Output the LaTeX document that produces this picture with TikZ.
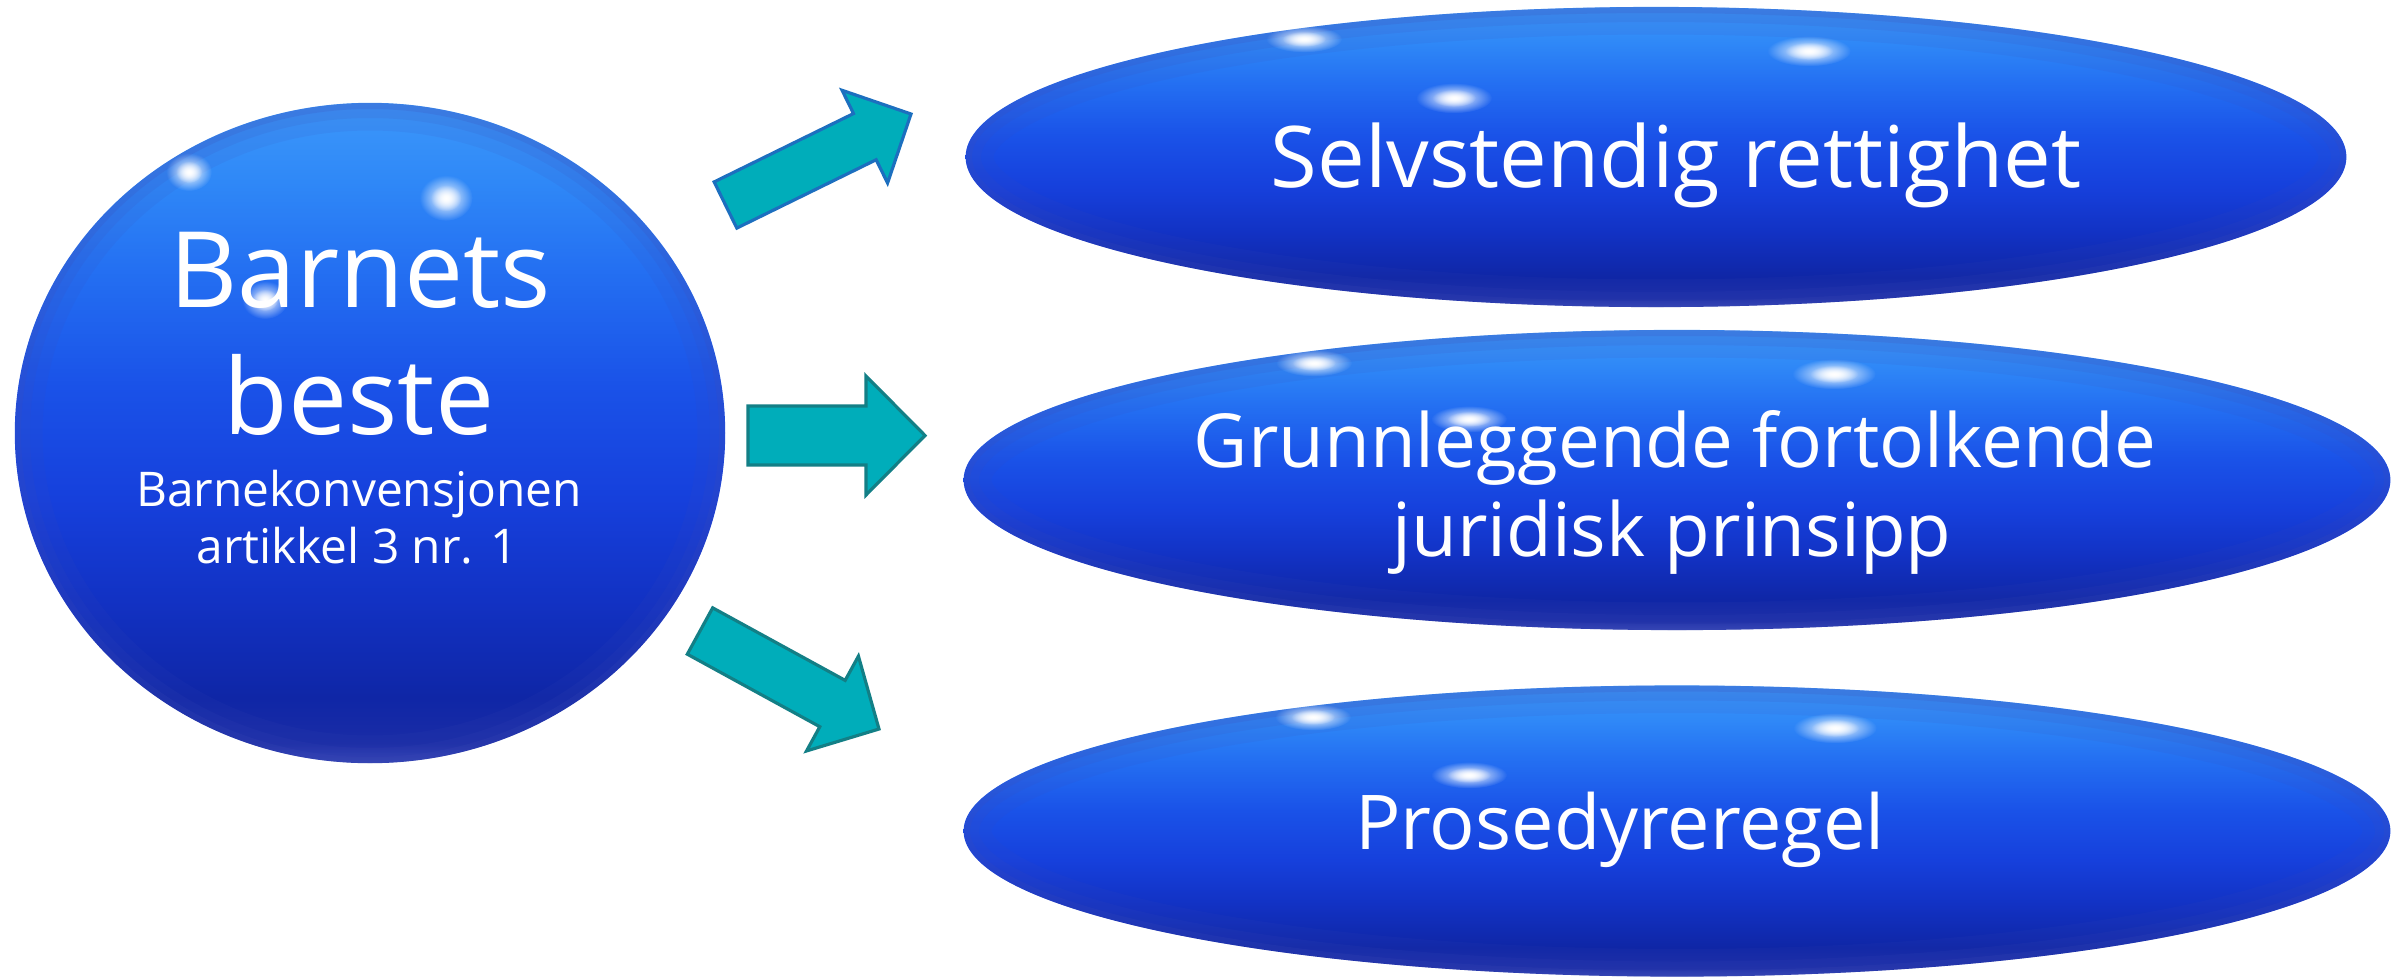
\documentclass[tikz,border=0pt]{standalone}
\usepackage{fontspec}
\setmainfont{Open Sans}
\usetikzlibrary{shapes.geometric,calc,fadings}

\definecolor{s0}{HTML}{3C98FA}
\definecolor{s1}{HTML}{2F88F7}
\definecolor{s2}{HTML}{2470F2}
\definecolor{s3}{HTML}{1A52E8}
\definecolor{s4}{HTML}{1640DC}
\definecolor{s5}{HTML}{1232C4}
\definecolor{s6}{HTML}{0F26A6}
\definecolor{s7}{HTML}{1A2CA6}
\definecolor{s8}{HTML}{3444B4}
\definecolor{rimc}{HTML}{3E4CB8}
\definecolor{arrFill}{HTML}{00ADBA}
\definecolor{arrBlue}{HTML}{1C6FBF}
\definecolor{arrTeal}{HTML}{137F86}

\pgfdeclareverticalshading{polished}{100bp}{color(0bp)=(s8); color(25bp)=(s8); color(26.5bp)=(s7); color(30bp)=(s6); color(37.5bp)=(s5); color(45bp)=(s4); color(53.5bp)=(s3); color(62.5bp)=(s2); color(69bp)=(s1); color(75bp)=(s0); color(100bp)=(s0)}

\tikzfading[name=glow, inner color=transparent!0, outer color=transparent!100]

\newcommand\fBig{\fontsize{30}{36}\selectfont}
\newcommand\fSmall{\fontsize{13.6}{16}\selectfont}
\newcommand\fTop{\fontsize{24.2}{28}\selectfont}
\newcommand\fMid{\fontsize{21.2}{26}\selectfont}
\newcommand\fLow{\fontsize{21.5}{26}\selectfont}

\newcommand\rimfx[3]{%
  \begin{scope}
    \clip (#1) ellipse (#2 and #3);
    \draw[rimc, line width=0.55cm, opacity=0.10] (#1) ellipse (#2 and #3);
    \draw[rimc, line width=0.30cm, opacity=0.12] (#1) ellipse (#2 and #3);
    \draw[rimc, line width=0.12cm, opacity=0.18] (#1) ellipse (#2 and #3);
  \end{scope}}

\newcommand\spot[3]{%
  \fill[white, path fading=glow] (#1) ellipse ({1.9*#2} and {1.9*#3});
  \fill[white, path fading=glow] (#1) ellipse ({1.1*#2} and {1.1*#3});}

% style, start, tip, shaft half width, head half width, head length
\newcommand\blockarrow[6]{%
  \coordinate (#2-j) at ($(#3)!#6!(#2)$);
  \draw[#1] ($(#2)!#4!90:(#3)$) -- ($(#2-j)!#4!90:(#3)$) -- ($(#2-j)!#5!90:(#3)$)
    -- (#3) -- ($(#2-j)!#5!-90:(#3)$) -- ($(#2-j)!#4!-90:(#3)$)
    -- ($(#2)!#4!-90:(#3)$) -- cycle;}

\tikzset{
  sphere/.style={ellipse, shade, shading=polished, draw=none, inner sep=0pt, outer sep=0pt},
  lbl/.style={text=white, inner sep=0pt, anchor=base},
  arr/.style={fill=arrFill, line width=0.9pt, line join=miter},
}

\begin{document}
\begin{tikzpicture}[x=0.01cm, y=-0.01cm]
\useasboundingbox (0,0) rectangle (2405,978);
\fill[white] (0,0) rectangle (2405,978);

% shapes
\node[sphere, minimum width=7.10cm, minimum height=6.60cm] (c) at (370,433) {};
\node[sphere, minimum width=13.80cm, minimum height=3.00cm] (e1) at (1656,157) {};
\node[sphere, minimum width=14.26cm, minimum height=3.00cm] (e2) at (1677,480) {};
\node[sphere, minimum width=14.26cm, minimum height=2.91cm] (e3) at (1677,831) {};

\rimfx{c.center}{355}{330}
\rimfx{e1.center}{690}{150}
\rimfx{e2.center}{713}{150}
\rimfx{e3.center}{713}{145.5}

% highlights
\spot{189,172}{12}{10}
\spot{446,198}{14}{12}
\spot{265,300}{12}{10}
\spot{1304,39}{20}{7}
\spot{1809,51}{22}{8}
\spot{1454,98}{20}{8}
\spot{1314,363}{20}{7}
\spot{1834,374}{22}{8}
\spot{1469,419}{20}{7}
\spot{1313,717}{20}{7}
\spot{1835,728}{22}{8}
\spot{1469,775}{20}{7}

% texts
\node[lbl, font=\fBig] (cl1) at (360,307) {Barnets};
\node[lbl, font=\fBig] (cl2) at (359,434) {beste};
\node[lbl, font=\fSmall] (cl3) at (359,506) {Barnekonvensjonen};
\node[lbl, font=\fSmall] (cl4) at (357,563) {artikkel 3 nr. 1};
\node[lbl, font=\fTop] (e1t) at (1676,187) {Selvstendig rettighet};
\node[lbl, font=\fMid] (e2t1) at (1675,467) {Grunnleggende fortolkende};
\node[lbl, font=\fMid] (e2t2) at (1672,556) {juridisk prinsipp};
\node[lbl, font=\fLow] (e3t) at (1620,849) {Prosedyreregel};

% arrows
\coordinate (a1s) at (725.5,205);
\coordinate (a1t) at (911,114);
\coordinate (a2s) at (748,435.5);
\coordinate (a2t) at (925,435.5);
\coordinate (a3s) at (700,631);
\coordinate (a3t) at (879,729);
\blockarrow{arr, draw=arrBlue}{a1s}{a1t}{0.257cm}{0.516cm}{0.514cm}
\blockarrow{arr, draw=arrTeal}{a2s}{a2t}{0.295cm}{0.595cm}{0.59cm}
\blockarrow{arr, draw=arrTeal}{a3s}{a3t}{0.264cm}{0.54cm}{0.53cm}
\end{tikzpicture}
\end{document}
